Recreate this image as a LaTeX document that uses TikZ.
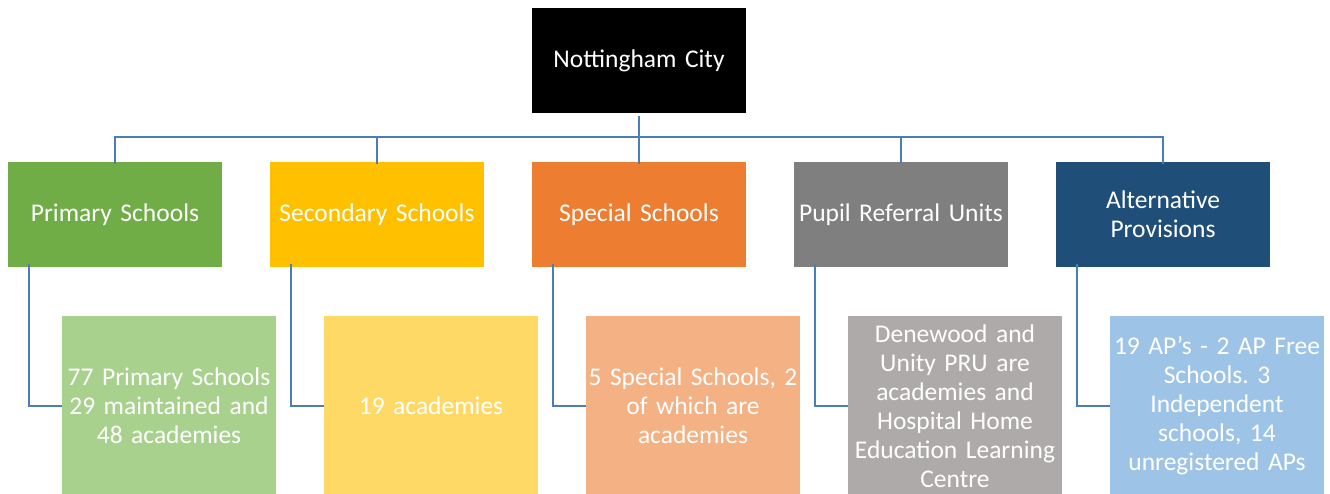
\documentclass[tikz,border=0pt]{standalone}
\usepackage{fontspec}
\setmainfont{Carlito}
\usepackage{xcolor}
\usepackage{tikz}

\definecolor{cityblack}{HTML}{000000}
\definecolor{primgreen}{HTML}{70AD47}
\definecolor{primlight}{HTML}{A9D18E}
\definecolor{secgold}{HTML}{FFC000}
\definecolor{seclight}{HTML}{FFD966}
\definecolor{specorange}{HTML}{ED7D31}
\definecolor{speclight}{HTML}{F4B183}
\definecolor{prugray}{HTML}{7F7F7F}
\definecolor{prulight}{HTML}{AEAAAA}
\definecolor{altblue}{HTML}{1F4E79}
\definecolor{altlight}{HTML}{9DC3E6}
\definecolor{linkblue}{HTML}{4A7EBB}

\begin{document}
\frenchspacing
\begin{tikzpicture}[
    x=1pt, y=-1pt,
    box/.style={rectangle, text=white, text width=212pt, align=center, minimum width=214pt, minimum height=105pt, inner sep=1pt, font=\fontsize{25.5}{29}\selectfont},
    detail/.style={box, minimum height=180pt},
    conn/.style={draw=linkblue, line width=2.4pt}
]
\useasboundingbox (0,0) rectangle (1330,494);

\node[box, fill=cityblack] (city) at (639,60.5) {Nottingham City};

\node[box, fill=primgreen] (primary) at (115,214.5) {Primary Schools};
\node[box, fill=secgold] (secondary) at (377,214.5) {Secondary Schools};
\node[box, fill=specorange] (special) at (639,214.5) {Special Schools};
\node[box, fill=prugray] (pru) at (901,214.5) {Pupil Referral Units};
\node[box, fill=altblue] (altprov) at (1163,214.5) {Alternative\\Provisions};

\node[detail, fill=primlight] (primarydet) at (169,406) {77 Primary Schools\\29 maintained and\\48 academies};
\node[detail, fill=seclight] (secondarydet) at (431,406) {19 academies};
\node[detail, fill=speclight] (specialdet) at (693,406) {5 Special Schools, 2\\of which are\\academies};
\node[detail, fill=prulight] (prudet) at (955,406) {Denewood and\\Unity PRU are\\academies and\\Hospital Home\\Education Learning\\Centre};
\node[detail, fill=altlight] (altprovdet) at (1217,406) {19 AP{\char"0027}s - 2 AP Free\\Schools. 3\\Independent\\schools, 14\\unregistered APs};

\foreach \kid in {primary, secondary, special, pru, altprov}
    \draw[conn] (city.south) ++(0,3) -- ++(0,21) -| ([yshift=-2pt]\kid.north);

\foreach \kid in {primary, secondary, special, pru, altprov}
    \draw[conn] ([xshift=21pt, yshift=3pt]\kid.south west) |- (\kid det.west);

\end{tikzpicture}
\end{document}
